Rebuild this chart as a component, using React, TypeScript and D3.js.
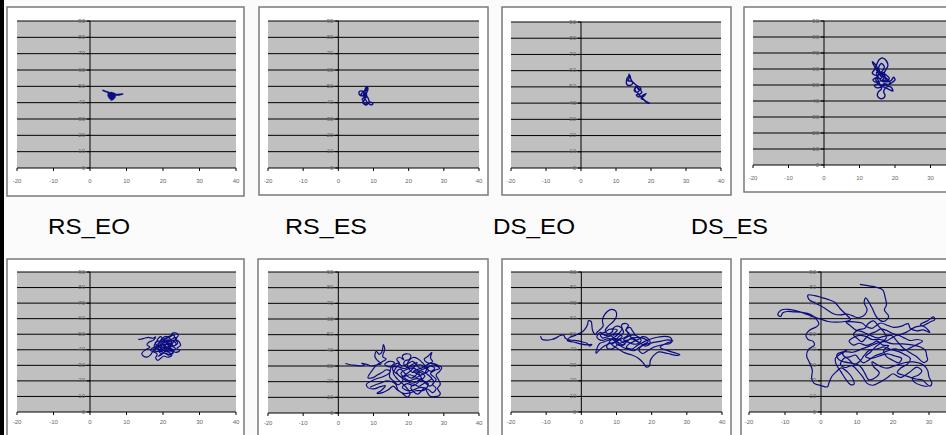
import React from "react";
import * as d3 from "d3";

const xTicks = [-20, -10, 0, 10, 20, 30, 40];
const yTicks = [0, 10, 20, 30, 40, 50, 60, 70, 80, 90];
const conditionLabels = ["RS_EO", "RS_ES", "DS_EO", "DS_ES"];

const trace1 = [
  [3.4,47.6],[4.4,46.8],[5.2,46.4],[4.8,46.0],[6.8,45.8],[5.0,45.4],[7.0,45.2],[4.9,44.8],[7.1,44.6],[4.8,44.2],[7.0,44.0],[5.0,43.6],[6.9,43.4],[5.2,43.0],[6.8,42.8],[5.4,42.4],[6.4,42.2],[5.8,41.6],[6.0,42.8],[5.2,43.4],[6.6,44.2],[5.0,45.0],[6.4,45.8],[5.6,46.2],[6.2,44.8],[7.4,45.0],[8.4,45.2],[9.0,45.4],[8.2,44.8],[7.2,44.6],[6.0,44.4],[5.4,44.0],[6.6,43.6],[5.6,45.2],[4.6,46.6],[3.8,47.2],[4.8,46.4],[5.6,45.6],[6.8,45.4],[5.2,44.4],[6.6,43.0],[5.6,42.6],[5.1,43.8],[6.2,43.8],[7.0,44.8],[5.8,46.0]
];
const trace2 = [
  [8.2,50.0],[8.0,48.5],[7.6,47.0],[7.2,46.8],[6.4,47.2],[5.9,46.6],[6.0,45.0],[6.6,44.2],[7.2,45.0],[7.0,46.4],[7.6,47.8],[7.8,49.2],[8.3,49.6],[8.4,48.0],[8.0,46.0],[7.6,44.2],[7.2,43.0],[6.8,42.0],[7.2,41.0],[7.0,40.0],[7.6,39.2],[8.2,39.6],[8.0,41.0],[7.6,42.4],[8.2,43.6],[8.6,42.0],[8.8,40.6],[9.4,40.2],[9.8,39.6],[9.6,38.8],[9.0,38.8],[8.6,39.6],[8.0,38.6],[7.4,39.0],[6.9,40.2],[7.4,41.6],[7.8,43.6],[7.4,45.6],[6.8,46.0],[6.5,45.2],[7.0,44.0],[7.8,45.2],[8.2,47.0],[7.8,48.6],[8.0,49.8],[7.6,46.2],[8.1,44.6],[7.3,43.8],[7.7,42.0]
];
const trace3 = [
  [13.8,58.2],[13.6,56.6],[13.2,55.4],[13.0,53.8],[13.0,52.0],[13.4,51.0],[14.4,51.2],[14.8,52.6],[14.2,53.6],[13.4,53.8],[13.8,55.6],[14.0,57.0],[14.2,55.0],[14.6,53.4],[15.2,52.2],[15.8,51.0],[16.4,50.2],[15.6,49.4],[15.2,48.0],[15.8,46.8],[16.6,47.6],[16.2,49.2],[16.8,48.4],[17.4,46.6],[16.6,45.4],[15.8,45.0],[16.4,43.8],[17.2,44.2],[18.0,45.2],[18.6,45.8],[17.8,44.0],[17.2,42.8],[18.0,42.0],[18.8,40.8],[19.6,39.8],[19.0,40.2],[18.2,41.4],[17.6,43.0],[16.8,44.6],[16.2,46.2],[15.6,47.4],[15.4,49.0],[16.0,50.6],[16.8,49.8],[17.2,48.2]
];
const trace4 = [
  [16.2,55.0],[15.0,58.5],[14.0,62.5],[13.6,64.5],[14.4,63.0],[15.2,60.0],[15.8,57.0],[14.6,56.0],[13.6,57.5],[14.2,59.5],[15.6,66.0],[16.6,66.8],[17.6,65.0],[18.0,62.0],[17.4,59.5],[16.8,57.0],[16.0,54.0],[14.8,54.6],[13.8,53.2],[14.6,51.8],[16.0,52.6],[17.6,52.0],[18.8,52.6],[19.6,54.8],[20.0,53.2],[19.2,51.6],[18.2,50.2],[17.0,50.8],[16.2,49.6],[15.2,50.6],[14.2,49.6],[15.0,48.2],[16.6,48.8],[18.0,47.6],[19.4,46.2],[19.0,48.4],[17.8,49.0],[16.8,46.0],[17.2,43.4],[16.6,41.6],[15.6,41.8],[15.0,43.6],[15.4,46.0],[16.2,47.6],[15.4,52.0],[15.0,55.4],[16.4,58.6],[17.0,61.2],[16.2,63.4],[15.4,61.0],[15.8,58.0],[16.8,55.0],[17.6,53.6],[16.4,52.8],
  [17.2,55.6],[16.0,57.2],[14.8,57.8],[15.6,54.0],[16.8,52.0],[18.4,54.0],[17.4,56.4],[16.2,58.0],[15.4,56.6],[14.6,53.4],[15.6,50.4],[17.4,49.8],[18.6,51.4],[17.6,54.2],[16.6,55.6],[15.2,59.2],[14.4,61.0]
];
const trace5 = [
  [13.2,46.6],[14.6,47.2],[16.0,48.0],[17.2,47.4],[18.0,48.4],[17.4,46.2],[16.2,45.0],[15.6,43.2],[16.4,41.6],[15.2,40.0],[14.2,37.6],[14.6,36.0],[15.8,35.4],[16.6,36.8],[17.2,38.6],[18.4,37.2],[18.0,34.8],[18.6,33.2],[19.4,34.6],[20.2,36.0],[21.2,35.2],[22.4,36.4],[21.6,38.4],[20.4,39.2],[19.6,41.0],[18.6,42.6],[17.8,44.2],[18.8,45.6],[20.0,44.4],[21.2,45.8],[22.6,47.0],[23.2,48.8],[22.4,50.4],[23.6,50.8],[24.2,49.2],[23.4,47.0],[24.4,45.2],[24.8,42.8],[23.8,41.0],[24.6,39.4],[23.4,38.4],[22.2,40.2],[21.0,42.0],[20.0,43.0],[19.0,44.4],[19.6,46.8],[20.8,48.6],[21.8,47.4],[22.4,45.0],[21.6,43.2],[22.8,42.4],[23.6,43.8],[22.8,45.6],[21.4,46.4],[20.2,46.0],[19.4,48.4],[18.6,47.0],[18.2,44.8],[17.6,42.8],[18.4,40.8],[19.8,39.6],[21.0,40.6],[20.6,42.8],[19.6,43.8],[18.8,41.2],[19.2,38.0],[20.6,37.8],[21.8,37.0],[23.0,39.2],[22.0,41.4],[20.8,44.6],[21.6,44.2],[22.6,43.4],[21.8,41.8],[20.2,41.4],[19.0,42.8],[17.0,41.0],[16.6,39.6],[17.6,39.2],[18.0,40.6],
  [19.2,45.6],[20.6,47.2],[22.0,49.0],[23.0,49.8],[21.8,48.2],[20.4,46.4],[21.8,45.0],[23.2,46.2],[24.0,44.2],[23.0,42.6],[21.4,43.8],[20.2,42.2],[21.6,40.4],[22.8,38.0],[21.4,36.6],[20.0,38.6],[18.8,39.4],[19.8,41.8],[18.6,43.8],[20.0,45.4],[21.2,44.6],[22.4,46.8],[23.8,48.0],[22.6,44.2],[21.0,41.4],[19.6,40.2],[18.2,38.8],[17.4,40.4],[18.8,42.0],[20.4,43.6],[22.0,42.8],[23.4,40.6],[22.4,39.2],[20.8,39.4],[19.4,36.6],[18.6,35.8],[19.8,37.6]
];
const trace6 = [
  [2.0,31.6],[3.4,30.8],[5.0,30.4],[6.4,30.0],[7.4,30.8],[6.6,31.8],[7.8,31.2],[9.4,30.0],[10.8,30.6],[12.2,31.4],[11.2,33.4],[10.4,36.0],[10.8,39.4],[11.6,37.4],[12.4,39.0],[12.8,43.6],[13.2,40.6],[12.6,36.0],[13.6,34.4],[12.4,32.6],[11.0,30.8],[10.0,28.4],[9.0,25.2],[8.4,22.6],[9.6,22.4],[11.2,24.4],[12.4,25.8],[13.6,27.6],[14.8,26.6],[13.0,23.4],[11.0,22.0],[9.6,20.6],[8.0,18.4],[8.4,16.2],[10.2,15.4],[12.0,16.8],[13.4,17.4],[12.2,14.4],[11.0,12.6],[12.6,13.0],[14.2,14.8],[15.6,17.2],[16.6,15.0],[17.8,13.2],[19.0,11.0],[19.8,10.2],[20.4,12.6],[19.6,15.6],[18.4,18.4],[17.2,20.8],[16.2,23.2],[15.6,25.8],[16.4,28.8],[17.4,31.6],[16.6,34.2],[17.4,35.6],[18.6,34.0],[18.2,36.4],[19.4,37.8],[20.6,36.8],[20.2,34.2],[19.0,33.4],[18.6,31.2],[19.8,29.0],[21.0,31.0],[22.4,32.2],[21.6,29.4],[20.6,27.0],[19.4,25.0],[18.2,22.6],[19.4,20.4],[21.0,19.0],[22.6,20.4],[23.6,22.4],[22.6,24.8],[21.4,26.6],[22.8,28.0],[24.2,29.4],[25.6,31.2],[26.8,32.8],[26.2,35.2],[26.6,38.8],[25.6,36.4],[24.4,34.4],[25.2,32.2],[27.4,31.4],[28.6,30.2],[29.4,29.0],[28.8,26.6],[27.8,24.2],[28.4,21.6],[29.0,18.4],[28.2,15.6],[29.0,12.6],[28.6,11.0],[27.4,10.4],[26.0,10.8],[25.2,13.6],[24.6,16.2],[23.6,14.0],[22.6,12.0],[21.4,13.6],[20.6,16.2],[21.6,18.2],[22.8,17.0],[24.0,18.4],[25.4,20.2],[26.6,22.0],[25.6,24.2],[24.4,25.8],[23.2,27.0],[22.0,24.0],[20.8,22.2],[19.6,23.6],[18.6,26.2],[17.6,28.0],[16.6,26.4],[17.2,24.0],[18.4,21.2],[17.0,18.0],[15.8,20.4],[14.6,22.8],[15.2,30.0],[16.0,32.0],[14.6,33.0],[13.2,31.2],[14.2,29.6],[16.8,29.6],[18.8,28.4],[20.4,29.6],[23.6,30.6],[25.0,28.2],[26.4,26.6],[27.4,28.6],[26.2,30.0],[24.8,26.0],[26.0,23.4],[27.2,19.6],[26.0,17.2],[24.6,19.4],[23.2,21.6],[21.8,21.8],[20.2,20.6],
  [19.0,22.0],[17.8,25.4],[19.2,27.6],[21.2,28.8],[23.0,26.4],[24.6,23.6],[23.0,20.2],[21.4,17.4],[19.6,18.8],[18.2,16.4],[19.8,14.2],[21.6,15.0],[23.4,16.4],[25.6,15.0],[26.8,13.0],[27.8,15.6],[26.8,18.4],[27.8,21.4],[26.2,25.2],[27.6,27.4],[28.8,28.4],[27.2,30.6],[25.4,29.6],[23.8,27.8],[22.4,30.0],[21.2,33.0],[20.0,31.8],[18.2,30.0],[16.8,31.8],[15.4,28.0],[16.8,24.8],[18.0,23.0],[20.4,24.4],[22.2,22.8],[24.0,24.8],[25.6,26.8],[24.2,31.4],[22.6,34.6],[21.2,35.4],[19.6,31.2],[21.0,26.0],[22.6,26.2],[24.0,21.0],[25.6,18.6],[24.4,14.6],[22.0,14.2],[20.6,13.0],[18.8,12.4],[17.0,14.6],[16.2,18.6],[13.8,20.6],[12.2,19.2],[10.6,18.0],[9.0,16.4]
];
const trace7 = [
  [-11.6,48.8],[-11.2,46.8],[-10.0,46.2],[-8.4,46.6],[-7.0,47.8],[-6.0,49.2],[-5.0,49.4],[-4.6,47.6],[-3.6,46.4],[-2.0,46.0],[0.0,45.2],[1.6,44.2],[2.4,42.4],[3.0,43.4],[1.6,43.2],[-0.6,44.0],[-2.2,45.0],[-4.0,46.0],[-3.4,47.8],[-1.6,49.4],[0.2,51.4],[1.2,53.8],[1.8,56.4],[2.0,58.6],[2.8,58.2],[3.0,55.6],[3.2,52.4],[4.0,49.8],[4.6,51.6],[5.6,53.6],[6.2,55.4],[6.0,58.6],[6.4,61.8],[7.4,64.6],[8.6,66.0],[9.8,64.8],[10.0,61.6],[9.2,58.4],[8.2,56.4],[7.4,54.6],[6.8,52.4],[7.6,50.2],[8.8,51.6],[9.2,54.2],[10.4,55.2],[11.6,53.4],[10.8,50.8],[9.6,48.4],[8.2,46.6],[6.6,45.2],[5.2,44.0],[4.4,40.6],[4.2,37.8],[5.0,39.6],[6.2,42.0],[7.6,43.6],[9.4,45.0],[11.0,46.6],[12.6,48.2],[13.6,50.4],[12.6,52.6],[13.8,54.4],[14.6,52.0],[15.4,49.4],[16.6,47.6],[15.2,45.6],[13.6,43.8],[12.8,41.6],[14.4,40.4],[15.8,42.6],[17.2,44.4],[18.8,46.2],[20.4,47.4],[22.0,48.2],[23.6,48.6],[25.2,48.0],[25.8,46.0],[25.2,44.0],[23.4,43.4],[21.6,42.4],[20.0,41.0],[18.6,39.0],[17.4,37.6],[16.4,39.8],[17.0,42.0],[18.6,43.6],[20.6,44.8],[22.8,45.6],[24.6,46.4],[26.0,45.6],[24.6,44.6],[22.4,41.6],[24.4,39.6],[26.4,38.2],[28.0,37.0],[27.0,36.4],[24.6,37.6],[22.0,38.6],[20.6,36.4],[19.6,33.0],[19.4,29.6],[18.4,29.0],[17.6,31.6],[16.2,34.6],[14.4,36.6],[12.4,38.0],[10.6,40.4],[9.2,42.4],[8.0,45.2],[9.6,47.2],[11.6,45.4],[12.4,43.6],[11.0,42.6],[9.8,44.6],[10.6,48.4],[12.0,51.0],[11.4,55.8],[12.4,57.0],[13.4,55.8],[12.8,53.2],[14.8,46.6],[16.4,44.8],[18.2,42.4],[19.6,44.0],[19.0,47.2],[17.4,48.4],[15.8,46.2],[14.4,47.8],[13.0,45.4],[11.8,43.2],[10.0,45.6],[8.6,48.8],[7.2,48.2],[6.0,47.6],[5.4,49.8],[6.8,51.4],[8.0,53.2],[10.2,52.8],
  [9.4,50.6],[8.0,49.0],[6.6,49.4],[5.4,51.2],[4.4,48.2],[5.8,46.0],[7.6,47.2],[9.2,46.2],[10.8,44.2],[12.6,45.4],[14.0,44.2],[15.6,43.6],[17.0,46.0],[16.0,48.6],[14.6,49.6],[13.2,48.4],[12.0,46.2],[13.8,46.6],[15.2,47.8],[17.8,47.2],[19.0,45.2],[18.0,43.8],[16.2,41.2],[15.0,39.4],[13.2,40.4],[11.8,41.6],[10.4,43.6],[9.6,41.6],[8.4,40.4],[7.2,41.4],[7.8,44.4],[8.8,44.0],[10.4,46.4],[11.6,48.6],[10.4,50.4],[9.0,49.2]
];
const trace8 = [
  [10.8,82.0],[13.0,81.2],[15.4,80.2],[17.2,78.4],[17.8,74.0],[18.2,69.0],[17.6,65.6],[18.8,61.4],[17.4,58.2],[15.6,60.6],[14.2,66.8],[13.2,71.0],[12.4,73.4],[12.0,70.2],[12.8,66.0],[12.2,62.6],[10.4,60.6],[8.6,62.0],[7.2,63.0],[5.4,62.4],[3.6,63.0],[1.6,65.8],[0.0,68.2],[-1.8,70.2],[-3.4,72.6],[-3.6,75.2],[-1.8,74.8],[0.8,73.2],[2.4,72.0],[3.8,70.6],[5.4,66.2],[7.0,62.6],[8.2,59.4],[6.6,58.2],[4.2,57.8],[2.0,58.2],[-0.2,59.8],[-2.6,61.6],[-4.8,63.6],[-7.2,65.2],[-9.2,66.0],[-11.0,65.6],[-12.0,62.6],[-11.2,61.4],[-10.6,63.8],[-9.4,64.6],[-7.6,64.4],[-5.2,64.0],[-3.0,62.8],[-1.4,60.0],[-0.6,56.4],[-1.4,54.6],[-3.2,52.6],[-4.2,49.6],[-3.6,46.6],[-2.2,45.4],[-1.8,43.2],[-3.4,40.4],[-4.0,36.2],[-3.2,31.8],[-2.4,26.8],[-2.6,22.0],[-2.0,18.6],[0.0,17.0],[1.8,16.2],[2.2,18.6],[3.0,22.8],[4.4,26.2],[5.6,28.4],[7.4,25.6],[8.8,21.4],[9.2,18.0],[8.2,17.6],[7.0,20.6],[5.4,26.4],[4.2,30.8],[4.0,34.6],[5.6,37.6],[7.2,40.0],[6.0,37.2],[7.8,33.6],[9.2,30.6],[10.8,32.6],[12.0,36.4],[13.4,39.6],[15.6,40.6],[17.6,41.8],[19.4,40.2],[21.6,38.8],[23.2,37.0],[24.8,34.4],[24.0,30.8],[22.2,28.4],[21.2,25.4],[23.6,23.2],[26.4,21.2],[28.2,20.6],[29.2,18.4],[30.2,16.6],[30.8,18.4],[30.0,22.6],[29.6,26.8],[28.4,30.2],[25.6,32.2],[23.4,31.8],[20.4,29.6],[18.2,28.2],[15.6,30.4],[14.2,32.2],[14.6,29.2],[16.2,25.2],[14.6,21.4],[13.2,20.8],[12.2,24.8],[11.2,28.6],[10.2,30.4],[8.4,31.4],[6.4,32.2],[5.0,33.6],[4.4,36.6],[6.4,38.8],[8.8,38.4],[11.2,40.4],[13.6,42.4],[15.8,44.4],[17.6,45.2],[19.6,44.0],[22.4,43.8],[25.2,43.2],[27.6,41.8],[29.0,39.6],[29.4,35.6],[29.6,33.4],[28.6,31.8],[26.4,35.8],[24.4,38.6],[22.6,41.6],[20.8,46.4],[19.6,49.2],[17.2,48.4],[15.6,47.6],[14.2,48.8],[12.6,50.4],[11.2,51.8],[9.6,52.8],[8.0,55.8],[7.0,57.6],[9.2,58.0],[11.4,57.2],[12.6,55.0],[14.2,53.8],[15.4,55.6],[16.6,57.2],[18.6,55.6],[20.2,54.4],[22.4,55.2],[24.2,56.8],[24.8,53.8],[26.6,52.2],[28.4,52.8],[30.2,51.2],[29.0,54.4],[27.6,56.2],[29.6,58.6],[31.2,61.2],[31.6,59.4],[30.4,58.0],[28.6,55.8],[26.0,54.4],[23.6,51.2],[21.4,49.6],[19.6,50.8],[18.0,52.6],[16.6,53.4],[15.2,51.6],[13.6,50.2],[12.4,47.4],[11.4,45.2],[10.2,47.0],[9.0,49.8],[10.4,52.8],[12.2,53.8],[13.0,56.6],[14.6,58.6],[16.0,55.2],[17.4,51.6],[18.2,48.0],[16.8,44.8],[15.2,42.0],[13.8,38.6],[12.4,35.6],[14.0,34.4],[16.2,36.0],[18.4,37.4],[20.6,36.0],[22.4,34.4],[21.6,31.6],[19.8,33.4],[18.2,35.6],[17.4,39.6],[18.8,42.6],[17.2,43.0],
  [15.6,45.6],[14.2,44.0],[12.6,42.8],[10.6,44.2],[9.0,43.0],[7.8,45.6],[8.8,47.6],[10.6,49.2],[12.4,48.6],[14.2,46.6],[16.4,46.6],[18.2,45.8],[19.6,47.6],[21.2,49.4],[22.8,48.0],[24.6,46.0],[26.8,46.6],[28.2,45.4],[27.0,43.8],[24.8,41.2],[22.6,39.4],[20.6,40.6],[18.6,39.4],[16.8,37.6],[15.0,36.2],[13.4,33.6],[11.8,31.6],[10.6,34.0],[9.6,36.6],[8.0,35.4],[6.6,34.8],[5.4,30.6],[6.8,28.6],[8.6,29.8],[10.4,26.0],[11.6,22.6],[12.8,18.4],[14.4,17.2],[16.4,19.2],[18.4,22.0],[20.0,24.6],[22.0,22.2],[24.6,25.6],[26.6,28.8],[28.0,26.4],[27.0,23.6],[25.4,22.2],[26.0,19.0],[27.8,17.2],[29.6,16.4]
];

const traces = [trace1, trace2, trace3, trace4, trace5, trace6, trace7, trace8];

// layout: frame box and plot box (x, y, w, h) per panel, plus tick label offset
const layout = [
  { frame: [7, 7, 237, 189], plot: [17, 21, 219, 147], lab: 13 },
  { frame: [259, 7, 229, 188], plot: [268, 21, 211, 147], lab: 13 },
  { frame: [502, 7, 229, 188], plot: [511, 22, 210, 146], lab: 13 },
  { frame: [744, 7, 230, 185], plot: [753, 21, 213, 144], lab: 13 },
  { frame: [7, 259, 237, 190], plot: [17, 272, 219, 140], lab: 10 },
  { frame: [258, 259, 230, 190], plot: [268, 272, 211, 141], lab: 10 },
  { frame: [502, 259, 229, 190], plot: [511, 272, 211, 140], lab: 10 },
  { frame: [741, 259, 230, 190], plot: [749, 272, 216, 140], lab: 10 },
];
const labelX = [48, 285, 493, 691];

function Panel({ idx }: { idx: number }) {
  const L = layout[idx];
  const [fx, fy, fw, fh] = L.frame;
  const [px, py, pw, ph] = L.plot;
  const x = d3.scaleLinear().domain([-20, 40]).range([px, px + pw]);
  const y = d3.scaleLinear().domain([0, 90]).range([py + ph, py]);
  const line = d3
    .line<number[]>()
    .x((d) => x(d[0]))
    .y((d) => y(d[1]))
    .curve(d3.curveCatmullRom.alpha(0.5));
  const sw = idx < 4 ? 1.4 : 1.2;
  return (
    <g>
      <rect x={fx} y={fy} width={fw} height={fh} fill="#ffffff" stroke="#7a7a7a" strokeWidth={1.5} />
      <rect x={x(-20)} y={y(90)} width={x(40) - x(-20)} height={y(0) - y(90)} fill="#c0c0c0" />
      {yTicks.slice(1).map((t) => (
        <line key={"g" + t} x1={x(-20)} x2={x(40)} y1={y(t)} y2={y(t)} stroke="#000" strokeWidth={1} />
      ))}
      <line x1={x(-20)} x2={x(40)} y1={y(0)} y2={y(0)} stroke="#000" strokeWidth={1} />
      <line x1={x(0)} x2={x(0)} y1={y(0)} y2={y(90)} stroke="#000" strokeWidth={1} />
      {xTicks.map((t) => (
        <g key={"xt" + t}>
          <line x1={x(t)} x2={x(t)} y1={y(0)} y2={y(0) + 3} stroke="#000" strokeWidth={1} />
          {x(t) + 5 < 946 && (
            <text x={x(t)} y={y(0) + L.lab} textAnchor="middle" dominantBaseline="middle" fontSize={6} fill="#666" fontFamily="Liberation Sans, Arial, sans-serif">
              {t}
            </text>
          )}
        </g>
      ))}
      {yTicks.map((t) => (
        <g key={"yt" + t}>
          <line x1={x(0) - 3} x2={x(0)} y1={y(t)} y2={y(t)} stroke="#000" strokeWidth={1} />
          <text x={x(0) - 5} y={y(t)} textAnchor="end" dominantBaseline="middle" fontSize={6} fill="#666" fontFamily="Liberation Sans, Arial, sans-serif">
            {t}
          </text>
        </g>
      ))}
      <path d={line(traces[idx]) || ""} fill="none" stroke="#0c0c82" strokeWidth={sw} strokeLinejoin="round" />
    </g>
  );
}

export default function App() {
  return (
    <div style={{ position: "absolute", left: 0, top: 0 }}>
      <svg width={946} height={435} style={{ display: "block" }}>
        <rect x={0} y={0} width={946} height={435} fill="#fbfbfb" />
        <rect x={0} y={0} width={4} height={435} fill="#000" />
        {layout.map((_, i) => (
          <Panel key={i} idx={i} />
        ))}
        {conditionLabels.map((lab, i) => (
          <text key={lab} x={labelX[i]} y={234} fontSize={22} textLength={i === 3 ? 77 : 82} lengthAdjust="spacingAndGlyphs" fontFamily="Liberation Sans, Arial, sans-serif" fill="#000">
            {lab}
          </text>
        ))}
      </svg>
    </div>
  );
}
